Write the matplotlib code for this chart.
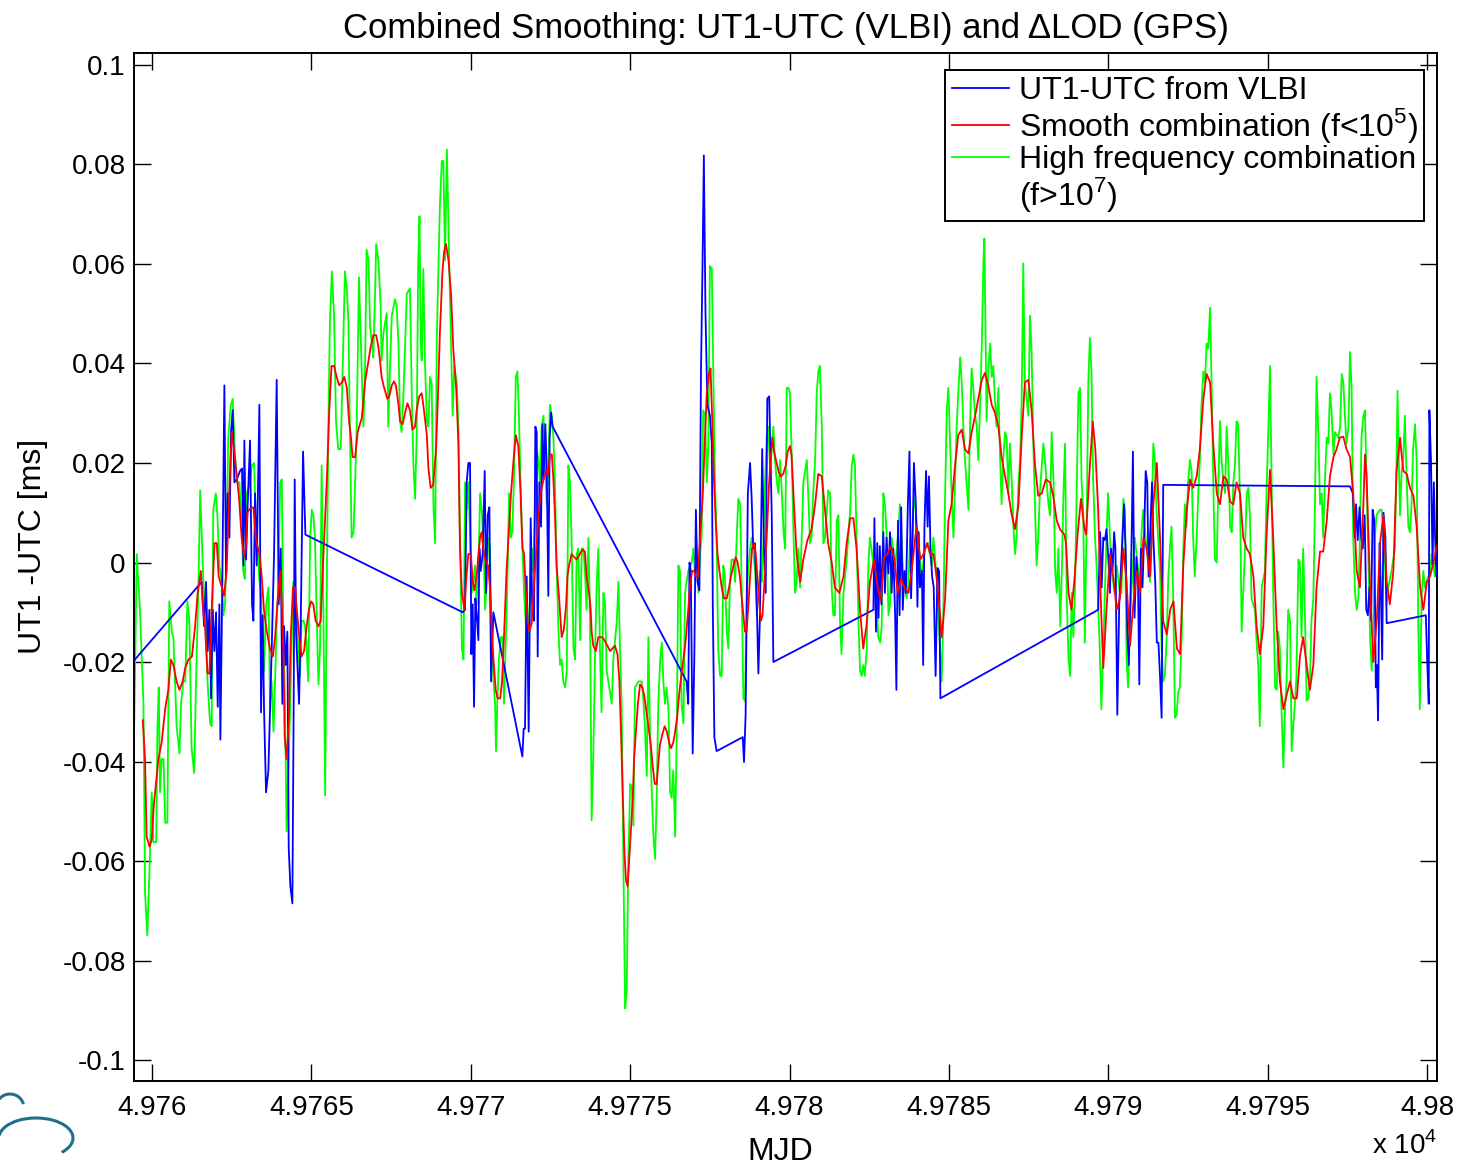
import matplotlib
matplotlib.use('Agg')
import matplotlib.pyplot as plt
from matplotlib.lines import Line2D
from matplotlib.patches import Arc
import numpy as np

plt.rcParams['font.family'] = ['Liberation Sans', 'DejaVu Sans']
plt.rcParams['mathtext.fontset'] = 'custom'
plt.rcParams['mathtext.rm'] = 'Liberation Sans'
plt.rcParams['axes.unicode_minus'] = False

MJD0 = 49760

# UT1-UTC from VLBI sessions (days since MJD0, microseconds)
vlbi_day = [-0.565, 1.558, 1.631, 1.694, 1.746, 1.798, 1.851, 1.903, 1.955, 2.008,
            2.06, 2.112, 2.143, 2.196, 2.269, 2.321, 2.373, 2.426, 2.478, 2.53,
            2.583, 2.656, 2.76, 2.823, 2.865, 2.896, 2.948, 3.0, 3.074, 3.137,
            3.179, 3.231, 3.283, 3.367, 3.419, 3.471, 3.513, 3.576, 3.649, 3.754,
            3.827, 3.91, 3.973, 4.036, 4.088, 4.14, 4.193, 4.245, 4.287, 4.339,
            4.402, 4.444, 4.475, 4.517, 4.569, 4.611, 4.663, 4.737, 4.81,
            9.745, 9.818, 9.87, 9.923, 9.975, 10.017, 10.059, 10.1, 10.142, 10.184,
            10.237, 10.268, 10.309, 10.372, 10.435, 10.477, 10.529, 10.582, 10.634, 10.707,
            11.617, 11.658, 11.7, 11.752, 11.815, 11.878, 11.93, 11.982, 12.024, 12.066,
            12.097, 12.149, 12.202, 12.244, 12.285, 12.337, 12.379, 12.431, 12.473, 12.515,
            12.567,
            16.77, 16.82, 16.86, 16.9, 16.96, 17.01, 17.06, 17.11, 17.17, 17.22,
            17.27, 17.31, 17.36, 17.42, 17.5, 17.56, 17.59, 17.64, 17.71,
            18.53, 18.57, 18.62, 18.69, 18.76, 18.81, 18.86, 18.91, 18.97, 19.02,
            19.07, 19.14, 19.2, 19.25, 19.3, 19.36, 19.44, 19.49,
            22.63, 22.66, 22.71, 22.75, 22.79, 22.83, 22.88, 22.94, 22.99, 23.04,
            23.1, 23.15, 23.2, 23.25, 23.31, 23.35, 23.4, 23.45, 23.5, 23.55,
            23.6, 23.65, 23.71, 23.76, 23.81, 23.86, 23.9, 23.96, 24.01, 24.05,
            24.09, 24.15, 24.19, 24.23, 24.28, 24.33, 24.37, 24.42, 24.47, 24.52,
            24.58, 24.64, 24.69, 24.73,
            29.68, 29.74, 29.79, 29.84, 29.89, 29.94, 30.0, 30.05, 30.08, 30.13,
            30.18, 30.22, 30.28, 30.34, 30.39, 30.44, 30.49, 30.54, 30.6, 30.64,
            30.68, 30.73, 30.77, 30.82, 30.88, 30.93, 30.97, 31.02, 31.07, 31.12,
            31.17, 31.22, 31.26, 31.32, 31.37, 31.41, 31.47, 31.52, 31.57, 31.62,
            31.67, 31.72,
            37.58, 37.67, 37.73, 37.77, 37.82, 37.88, 37.93, 37.98, 38.04, 38.09,
            38.14, 38.19, 38.24, 38.29, 38.34, 38.39, 38.42, 38.46, 38.51, 38.55,
            38.59, 38.63, 38.69, 38.73,
            39.96, 40.0, 40.05, 40.07, 40.12, 40.17, 40.21, 40.25, 40.29, 40.35]
vlbi_us = [-19.7, -3.9, -12.8, -3.9, -17.8, -9.5, -27.3, -9.5, -17.8, -10.0,
           -29.0, -8.4, -35.6, -8.4, 35.6, -2.8, 13.9, 5.0, 26.2, 30.6,
           16.1, 16.7, 18.4, 18.9, -0.6, 24.5, 0.6, 11.7, 24.5, -8.4,
           -11.7, 13.9, -0.6, 31.7, -30.1, -10.6, -29.5, -46.2, -41.8, -17.3,
           1.7, 36.7, -8.4, 2.8, -28.4, -12.8, -20.6, -13.9, -57.3, -65.1,
           -68.5, -27.3, 16.7, -13.9, -21.7, -28.4, -12.8, 22.3, 5.6,
           -10.0, -9.5, 16.1, 20.0, 20.0, -18.4, -8.4, -29.0, -7.2, -10.6,
           -15.6, 2.8, -1.7, 1.7, 18.4, -6.1, 9.5, 11.1, -23.9, -10.0,
           -39.0, -33.4, -33.4, -2.8, -34.0, 8.9, -10.6, -11.7, 27.3, 26.2,
           -18.9, 16.1, 7.2, 27.8, 16.7, 27.8, 19.5, -6.7, 25.1, 30.1,
           27.3,
           -23.9, -28.4, 0.0, -1.7, -38.4, -19.5, 10.6, -3.9, -5.6, 38.4,
           60.7, 81.8, 50.7, 31.7, 29.5, 23.9, -8.4, -35.1, -37.9,
           -35.1, -40.1, -30.6, 13.9, 20.0, 12.8, 2.8, 3.9, -8.4, -22.3,
           -10.6, 22.8, 1.7, -6.1, 32.9, 33.4, 9.5, -20.0,
           -9.5, 8.9, -13.9, 3.9, -11.1, 3.3, -8.4, 6.1, -6.1, 5.0,
           -2.2, 6.1, -6.1, 2.8, -10.6, -25.6, 8.4, -10.6, 11.1, -9.5,
           -1.7, -6.1, 11.7, 22.3, -7.2, 5.0, 20.0, 11.7, -8.9, 6.1,
           -5.0, -1.7, -20.6, 7.2, 18.4, 7.2, 17.3, 2.8, -2.8, -5.0,
           -22.8, -1.1, -1.7, -27.3,
           -9.5, 6.1, -5.0, 5.0, 4.5, 6.7, 0.6, -6.1, 2.8, -1.7,
           6.1, 2.8, -30.6, -8.4, -1.7, 5.0, 11.7, 2.8, -15.0, -20.6,
           -10.6, 5.0, 22.3, -11.1, 1.1, -3.9, -24.5, 2.8, -5.0, 5.0,
           18.4, 16.1, -2.8, 7.2, 16.1, 5.0, -3.9, -16.1, -16.1, -22.8,
           -31.2, 15.6,
           15.3, 13.9, 5.0, 11.7, 4.5, 11.1, 5.0, 2.8, 9.5, -9.5,
           -10.6, -5.0, -11.7, 10.6, 8.4, -25.1, -20.6, -31.7, 3.9, -6.1,
           -19.5, 10.0, 5.0, -12.2,
           -10.6, -19.5, -28.4, 30.6, 20.6, -0.6, 16.1, 5.0, -2.8, 5.0]

# smooth combination (f < 1e5)
smooth_day = [-0.29, -0.22, -0.17, -0.08, -0.01, 0.06, 0.2, 0.3, 0.41, 0.51,
              0.59, 0.67, 0.77, 0.86, 0.96, 1.04, 1.14, 1.25, 1.35, 1.43,
              1.53, 1.59, 1.66, 1.74, 1.8, 1.87, 1.96, 2.03, 2.09, 2.19,
              2.26, 2.34, 2.42, 2.5, 2.57, 2.66, 2.73, 2.81, 2.89, 2.94,
              2.99, 3.07, 3.18, 3.26, 3.37, 3.44, 3.51, 3.6, 3.7, 3.79,
              3.86, 3.93, 4.02, 4.07, 4.12, 4.16, 4.22, 4.29, 4.35, 4.42,
              4.49, 4.54, 4.62, 4.69, 4.77, 4.85, 4.92, 4.99, 5.06, 5.13,
              5.22, 5.29, 5.37, 5.48, 5.56, 5.63, 5.71, 5.79, 5.87, 5.96,
              6.03, 6.11, 6.18, 6.24, 6.29, 6.37, 6.45, 6.52,
              6.58, 6.68, 6.79, 6.86, 6.94, 7.03, 7.1, 7.15, 7.2, 7.26,
              7.31, 7.38, 7.44, 7.52, 7.59, 7.65, 7.73, 7.78, 7.86, 7.94,
              8.01, 8.09, 8.17, 8.25, 8.3, 8.38, 8.46, 8.53, 8.62, 8.67,
              8.74, 8.82, 8.91, 8.96, 9.03, 9.11, 9.16, 9.22, 9.3, 9.38,
              9.45, 9.54, 9.61, 9.66, 9.72, 9.8, 9.85, 9.92, 10.0, 10.06,
              10.11, 10.18, 10.24, 10.29, 10.34, 10.39, 10.47, 10.54, 10.6, 10.65,
              10.71, 10.78, 10.84, 10.92, 10.98, 11.04, 11.12, 11.2, 11.26, 11.34,
              11.41, 11.49, 11.56, 11.62, 11.67, 11.72, 11.78, 11.84, 11.91, 11.96,
              12.03, 12.12, 12.19, 12.28, 12.36, 12.43, 12.48, 12.54, 12.59, 12.64,
              12.69, 12.77, 12.85, 12.92, 12.99, 13.03, 13.08, 13.16, 13.24, 13.32,
              13.42, 13.5, 13.58, 13.63, 13.71, 13.76, 13.79, 13.84, 13.92, 14.0,
              14.11, 14.19, 14.28, 14.37, 14.44, 14.52, 14.6, 14.66, 14.71, 14.76,
              14.82, 14.87, 14.92, 14.97, 15.03, 15.08, 15.12, 15.18, 15.24, 15.31,
              15.38, 15.44, 15.5, 15.57, 15.64, 15.7, 15.77, 15.83, 15.88, 15.93,
              16.01, 16.08, 16.15, 16.22, 16.28, 16.35, 16.41, 16.48, 16.54, 16.61,
              16.69, 16.75, 16.82, 16.87, 16.94, 17.0, 17.06, 17.12, 17.19, 17.27,
              17.33, 17.4, 17.47, 17.52, 17.58, 17.63, 17.69, 17.74, 17.8, 17.87,
              17.94, 18.03, 18.1, 18.16, 18.24, 18.31, 18.37, 18.44, 18.5, 18.55,
              18.6, 18.65, 18.71, 18.76, 18.82, 18.88, 18.94, 18.99, 19.05, 19.1,
              19.15, 19.2, 19.28, 19.35, 19.41, 19.46, 19.51, 19.57, 19.65, 19.72,
              19.8, 19.88, 19.94, 20.01, 20.06,
              20.12, 20.22, 20.33, 20.43, 20.56, 20.69, 20.8, 20.9, 21.01, 21.11,
              21.21, 21.32, 21.42, 21.56, 21.69, 21.79, 21.9, 22.0, 22.1, 22.21,
              22.31, 22.41, 22.52, 22.65, 22.76, 22.86, 22.96, 23.07, 23.18, 23.29,
              23.39, 23.5, 23.6, 23.73, 23.83, 23.94, 23.99, 24.1, 24.2, 24.31,
              24.41, 24.51, 24.61, 24.72, 24.77, 24.88, 24.98, 25.08, 25.19, 25.29,
              25.4, 25.5, 25.61, 25.71, 25.82, 25.92, 26.03, 26.13, 26.23, 26.34,
              26.44, 26.55, 26.65, 26.76, 26.86, 26.97,
              27.07, 27.18, 27.28, 27.38, 27.49, 27.59, 27.7, 27.8, 27.91, 28.04,
              28.17, 28.27, 28.38, 28.48, 28.62, 28.67, 28.75, 28.84, 28.93, 29.04,
              29.14, 29.24, 29.3, 29.4, 29.51, 29.59, 29.68, 29.76, 29.84, 29.95,
              30.05, 30.15, 30.26, 30.36, 30.47, 30.57, 30.68, 30.78, 30.89, 30.99,
              31.1, 31.2, 31.31, 31.41, 31.52, 31.62, 31.72, 31.83, 31.94, 32.04,
              32.15, 32.25, 32.35, 32.46, 32.56, 32.66, 32.77, 32.87, 32.98, 33.08,
              33.19, 33.29, 33.4, 33.5, 33.61, 33.71, 33.82, 33.92, 34.02,
              34.13, 34.23, 34.34, 34.44, 34.55, 34.65, 34.75, 34.86, 34.96, 35.07,
              35.17, 35.28, 35.38, 35.49, 35.59, 35.7, 35.8, 35.91, 36.01, 36.11,
              36.22, 36.32, 36.43, 36.53, 36.64, 36.74, 36.85, 36.95, 37.06, 37.16,
              37.26, 37.37, 37.47, 37.58, 37.68, 37.79, 37.89, 38.0, 38.05, 38.1,
              38.21, 38.31, 38.42, 38.52, 38.63, 38.73, 38.83, 38.94, 39.04, 39.15,
              39.25, 39.36, 39.46, 39.57, 39.67, 39.78, 39.88, 39.99, 40.09, 40.2,
              40.3, 40.35]
smooth_us = [-31.7, -39.5, -55.1, -57.1, -55.7, -48.4, -39.5, -36.2, -29.5, -25.6,
             -19.5, -20.6, -23.9, -25.6, -23.9, -21.2, -19.5, -18.9, -12.8, -6.1,
             -1.7, -8.4, -12.8, -22.3, -22.3, -9.5, 3.9, 3.9, -2.8, -5.0,
             -6.7, -1.7, 13.9, 26.2, 22.8, 17.3, 12.8, 5.0, 1.1, 2.8,
             10.0, 10.8, 11.1, 4.5, 1.7, -2.8, -9.5, -13.9, -17.3, -18.9,
             -15.0, -8.4, -1.7, -8.4, -17.3, -35.1, -39.5, -31.7, -15.0, -5.0,
             -5.0, -9.5, -15.0, -18.9, -17.8, -12.8, -9.5, -7.8, -8.4, -11.7,
             -12.8, -11.7, 0.6, 16.1, 30.6, 39.5, 39.5, 37.3, 35.6, 36.2,
             37.3, 35.1, 28.4, 25.1, 21.2, 21.2, 26.2, 27.8,
             29.0, 36.2, 40.6, 43.4, 45.7, 45.7, 43.4, 40.6, 37.3, 35.6,
             34.5, 32.9, 33.4, 35.6, 36.4, 35.6, 31.7, 28.4, 27.8, 30.1,
             32.0, 30.6, 26.7, 27.3, 30.6, 33.4, 34.0, 30.6, 25.6, 18.9,
             15.0, 15.6, 22.8, 31.7, 46.2, 58.5, 62.4, 64.0, 60.7, 54.0,
             42.9, 35.1, 23.9, 2.8, -6.1, -9.5, -3.9, 1.7, 1.7, -3.9,
             -5.6, -2.8, 1.7, 5.0, 6.1, 2.8, 0.0, -0.6, -5.0, -12.8,
             -19.5, -25.6, -27.3, -27.3, -23.9, -15.0, -1.7, 7.2, 13.9, 20.6,
             25.6, 23.4, 13.9, 2.8, 1.7, -5.0, -11.7, -13.9, -12.2, -7.2,
             0.6, 8.9, 13.9, 16.7, 18.4, 17.8, 21.7, 21.7, 16.7, 9.5,
             -0.6, -7.2, -15.0, -13.4, -8.4, -2.8, -0.6, 1.7, 1.1, 0.6,
             1.7, 2.6, 2.2, -2.8, -6.1, -9.5, -13.9, -16.7, -17.8, -15.0,
             -15.0, -15.6, -16.7, -17.8, -17.3, -16.7, -18.4, -23.9, -34.0, -45.1,
             -58.5, -64.0, -65.1, -59.6, -52.9, -47.3, -39.5, -34.0, -28.4, -24.5,
             -25.1, -26.7, -29.5, -32.9, -36.2, -40.6, -44.5, -44.5, -40.6, -36.7,
             -34.5, -32.9, -34.0, -36.2, -37.3, -36.2, -34.0, -30.6, -26.2, -22.3,
             -18.4, -15.0, -9.5, -5.0, -1.7, -1.7, -2.8, -2.8, 5.0, 12.8,
             22.8, 34.0, 37.9, 39.0, 27.3, 16.1, 7.2, 1.7, -1.7, -5.0,
             -7.2, -7.2, -5.0, -2.8, -0.6, 1.1, 0.0, -2.8, -7.2, -10.6,
             -13.9, -13.9, -8.4, -2.8, 2.8, 3.9, 1.7, -2.8, -8.4, -11.7,
             -10.6, -5.0, 5.0, 15.0, 21.7, 25.1, 22.3, 20.6, 18.4, 17.3,
             17.8, 19.5, 22.3, 23.4, 21.7,
             13.9, 1.7, -3.9, 0.6, 4.5, 6.7, 11.7, 17.8, 17.3, 10.6,
             3.9, 0.0, -5.0, -6.1, -2.8, 3.9, 8.9, 8.9, 2.8, -9.5,
             -17.3, -12.8, -3.9, 0.6, -5.0, -7.8, 1.1, 1.7, 3.3, 0.6,
             -6.1, -3.3, -5.0, -6.1, -1.7, 5.0, 7.2, 0.6, 1.7, 3.9,
             1.7, 1.7, -2.8, -10.6, -15.0, -7.2, 8.4, 11.7, 19.5, 25.6,
             26.7, 22.8, 21.9, 26.2, 29.5, 32.9, 36.7, 38.1, 35.6, 31.7,
             30.1, 27.3, 21.2, 17.3, 13.9, 9.5,
             6.7, 11.7, 25.1, 36.2, 36.7, 30.6, 19.5, 13.4, 13.9, 16.7,
             16.1, 13.4, 8.4, 6.7, 5.6, 3.9, -6.1, -9.5, -3.9, 6.1,
             12.8, 7.2, 5.6, 17.3, 28.4, 22.8, 10.6, -7.2, -21.2, -8.4,
             1.7, -2.8, -9.5, -7.2, 2.8, -3.9, -16.7, -8.4, -1.7, -6.1,
             5.0, 2.8, -2.8, 11.7, 20.0, 5.0, -11.7, -14.5, -9.5, -7.8,
             -17.3, -18.4, -0.6, 10.6, 16.7, 15.0, 17.3, 22.8, 32.9, 37.9,
             36.2, 23.9, 13.9, 11.7, 17.3, 16.7, 12.2, 11.7, 16.1,
             13.9, 5.0, 2.8, 1.7, -2.8, -12.8, -18.4, -12.8, 5.0, 18.6,
             5.0, -12.8, -23.9, -29.5, -26.7, -23.9, -27.3, -27.3, -18.9, -15.0,
             -20.6, -25.6, -20.6, -5.0, 2.2, 2.2, 8.4, 17.3, 21.2, 22.8,
             25.1, 25.3, 22.8, 21.2, 13.9, -1.7, -5.0, 11.7, 21.7, 17.3,
             -5.0, -20.0, -11.7, 3.9, 9.5, -3.9, -8.4, -1.7, 18.4, 25.1,
             18.4, 17.8, 15.0, 13.4, 7.2, -5.0, -9.5, -3.9, -2.8, 0.0,
             3.3, 3.3]

# high frequency combination (f > 1e7)
hf_day = [-0.56, -0.48, -0.38, -0.27, -0.22, -0.15, -0.08, -0.01, 0.04, 0.13,
          0.17, 0.21, 0.25, 0.3, 0.36, 0.41, 0.48, 0.54, 0.62, 0.67,
          0.77, 0.86, 0.91, 0.98, 1.04, 1.11, 1.17, 1.24, 1.32, 1.38,
          1.45, 1.51, 1.56, 1.61, 1.66, 1.74, 1.82, 1.87, 1.92, 2.0,
          2.05, 2.11, 2.19, 2.24, 2.29, 2.34, 2.39, 2.47, 2.53, 2.6,
          2.66, 2.74, 2.81, 2.86, 2.91, 2.97, 3.02, 3.07, 3.13, 3.2,
          3.26, 3.31, 3.37, 3.42, 3.47, 3.51, 3.58, 3.65, 3.7, 3.75,
          3.81, 3.86, 3.91, 3.96, 4.02, 4.07, 4.12, 4.17, 4.22, 4.29,
          4.36, 4.43, 4.49, 4.54, 4.59, 4.64, 4.69, 4.75, 4.8, 4.85,
          4.9, 4.96, 5.01, 5.06, 5.11, 5.17, 5.22, 5.27, 5.32, 5.37,
          5.43, 5.48, 5.53, 5.58, 5.64, 5.71, 5.77, 5.84, 5.92, 5.98,
          6.05, 6.11, 6.16, 6.21, 6.26, 6.32, 6.37, 6.42, 6.49,
          6.58, 6.63, 6.68, 6.73, 6.79, 6.84, 6.9, 6.94, 7.0, 7.03,
          7.1, 7.17, 7.2, 7.26, 7.36, 7.41, 7.46, 7.52, 7.62, 7.67,
          7.73, 7.78, 7.83, 7.88, 7.94, 7.99, 8.09, 8.15, 8.2, 8.25,
          8.3, 8.35, 8.39, 8.43, 8.46, 8.51, 8.56, 8.62, 8.67, 8.72,
          8.77, 8.83, 8.88, 8.93, 8.98, 9.03, 9.09, 9.14, 9.19, 9.25,
          9.32, 9.38, 9.43, 9.48, 9.56, 9.61, 9.66, 9.72, 9.77, 9.82,
          9.87, 9.92, 9.98, 10.03, 10.08, 10.13, 10.18, 10.24, 10.29, 10.34,
          10.39, 10.45, 10.5, 10.55, 10.6, 10.65, 10.71, 10.76, 10.79, 10.83,
          10.88, 10.94, 10.99, 11.04, 11.09, 11.14, 11.2, 11.25, 11.3, 11.35,
          11.41, 11.46, 11.51, 11.56, 11.62, 11.67, 11.72, 11.77, 11.83, 11.88,
          11.93, 11.96, 12.01, 12.07, 12.12, 12.17, 12.22, 12.28, 12.33, 12.38,
          12.43, 12.48, 12.54, 12.59, 12.64, 12.69, 12.75, 12.8, 12.85, 12.9,
          12.96, 13.01, 13.06, 13.11, 13.16, 13.22, 13.27, 13.32, 13.37,
          13.43, 13.48, 13.53, 13.58, 13.63, 13.69, 13.74, 13.79, 13.84, 13.9,
          13.95, 14.0, 14.05, 14.1, 14.16, 14.21, 14.26, 14.37, 14.42, 14.47,
          14.58, 14.63, 14.68, 14.73, 14.79, 14.84, 14.89, 14.94, 15.0, 15.05,
          15.1, 15.15, 15.26, 15.36, 15.41, 15.46, 15.52, 15.57, 15.62, 15.67,
          15.73, 15.78, 15.83, 15.88, 15.94, 15.99, 16.04, 16.09, 16.14, 16.2,
          16.25, 16.3, 16.35, 16.41, 16.46, 16.51, 16.56, 16.61, 16.67, 16.72,
          16.82, 16.93, 16.98, 17.03, 17.09, 17.14, 17.19, 17.24, 17.29, 17.35,
          17.4, 17.45, 17.5, 17.56, 17.61, 17.66, 17.71, 17.76, 17.82, 17.87,
          17.92, 17.97, 18.03, 18.08, 18.13, 18.18, 18.24, 18.29, 18.34, 18.39,
          18.45, 18.5, 18.55, 18.6, 18.66, 18.71, 18.76, 18.81, 18.92, 18.97,
          19.02, 19.07, 19.13, 19.18, 19.23, 19.28, 19.33, 19.39, 19.44, 19.49,
          19.54, 19.6, 19.65, 19.7, 19.75, 19.81, 19.86, 19.91, 19.96, 20.01,
          20.07, 20.12, 20.17, 20.22, 20.27,
          20.33, 20.38, 20.43, 20.54, 20.59, 20.64, 20.69, 20.74, 20.8, 20.85,
          20.9, 20.95, 21.01, 21.06, 21.11, 21.16, 21.21, 21.27, 21.32, 21.37,
          21.42, 21.48, 21.53, 21.58, 21.63, 21.69, 21.79, 21.84, 21.9, 21.95,
          22.0, 22.05, 22.1, 22.16, 22.21, 22.26, 22.31, 22.36, 22.42, 22.47,
          22.52, 22.57, 22.68, 22.73, 22.78, 22.84, 22.89, 22.94, 22.99, 23.05,
          23.1, 23.15, 23.2, 23.31, 23.41, 23.46, 23.51, 23.57, 23.67, 23.72,
          23.78, 23.83, 23.88, 23.93, 24.04, 24.14, 24.25, 24.35, 24.46, 24.51,
          24.61, 24.67, 24.72, 24.77, 24.82, 24.87, 24.93, 24.98, 25.03, 25.08,
          25.14, 25.19, 25.24, 25.29, 25.35, 25.4, 25.45, 25.5, 25.55, 25.61,
          25.66, 25.71, 25.76, 25.82, 25.87, 25.92, 25.97, 26.03, 26.08, 26.11,
          26.15, 26.18, 26.23, 26.29, 26.34, 26.39, 26.44, 26.49, 26.55, 26.6,
          26.65, 26.7, 26.76, 26.81, 26.86, 26.91, 26.97, 27.02, 27.07, 27.12,
          27.18, 27.23, 27.28, 27.33, 27.38, 27.49, 27.54, 27.59, 27.65, 27.7,
          27.75, 27.8, 27.85, 27.96, 28.01, 28.12, 28.17, 28.22, 28.28, 28.33,
          28.38, 28.43, 28.49, 28.54, 28.59, 28.64, 28.69, 28.75, 28.8, 28.85,
          28.9, 28.95, 29.0, 29.06, 29.11, 29.16, 29.21, 29.26, 29.32, 29.37,
          29.42, 29.47, 29.52, 29.58, 29.63, 29.68, 29.73, 29.78, 29.84, 29.89,
          29.94, 29.99, 30.05, 30.1, 30.2, 30.26, 30.36, 30.41, 30.47, 30.52,
          30.57, 30.62, 30.68, 30.78, 30.83, 30.94, 30.99, 31.04, 31.09, 31.2,
          31.31, 31.36, 31.41, 31.46, 31.51, 31.62, 31.67, 31.72, 31.77, 31.83,
          31.88, 31.93, 31.98, 32.03, 32.09, 32.14, 32.19, 32.24, 32.3, 32.35,
          32.4, 32.45, 32.5, 32.56, 32.61, 32.66, 32.71, 32.77, 32.82, 32.87,
          32.92, 32.98, 33.03, 33.08, 33.13, 33.19, 33.24, 33.29, 33.34, 33.4,
          33.45, 33.5, 33.55, 33.61, 33.66, 33.71, 33.76, 33.82, 33.87, 33.92,
          33.97, 34.02, 34.07,
          34.13, 34.18, 34.23, 34.28, 34.34, 34.39, 34.44, 34.49, 34.6, 34.65,
          34.7, 34.75, 34.81, 34.91, 34.96, 35.02, 35.07, 35.12, 35.17, 35.23,
          35.28, 35.33, 35.38, 35.43, 35.49, 35.54, 35.59, 35.64, 35.7, 35.75,
          35.8, 35.85, 35.9, 35.96, 36.01, 36.06, 36.11, 36.17, 36.22, 36.27,
          36.32, 36.37, 36.43, 36.48, 36.53, 36.58, 36.64, 36.69, 36.74, 36.79,
          36.85, 36.9, 36.95, 37.0, 37.06, 37.11, 37.21, 37.27, 37.32, 37.37,
          37.42, 37.47, 37.53, 37.58, 37.63, 37.68, 37.74, 37.79, 37.84, 37.89,
          37.94, 38.0, 38.05, 38.1, 38.15, 38.21, 38.26, 38.31, 38.36, 38.41,
          38.52, 38.57, 38.62, 38.68, 38.73, 38.78, 38.88, 38.99, 39.04, 39.07,
          39.11, 39.15, 39.2, 39.25, 39.3, 39.36, 39.41, 39.46, 39.51, 39.56,
          39.62, 39.67, 39.72, 39.77, 39.83, 39.88, 39.93, 39.98, 40.09, 40.14,
          40.19, 40.24, 40.3, 40.35]
hf_us = [-32.9, 1.7, -9.5, -28.4, -66.3, -74.9, -61.8, -46.2, -56.2, -56.2,
         -32.9, -25.1, -46.2, -39.5, -39.5, -52.3, -52.3, -7.8, -13.9, -15.0,
         -32.9, -38.4, -28.4, -23.9, -23.9, -7.8, -11.7, -37.3, -42.3, -23.9,
         -6.1, 14.5, 5.0, -3.9, -8.4, -23.9, -32.3, -32.9, 10.6, 13.9,
         9.5, -0.6, -3.9, -10.6, -8.4, 5.0, 25.1, 31.7, 32.9, 21.7,
         16.1, 16.1, 7.2, -1.7, -3.3, 13.9, 15.0, 16.1, 19.5, 20.0,
         7.2, 2.8, -3.9, -6.1, -22.8, -21.7, -8.4, -5.0, -28.4, -23.9,
         -34.0, -23.9, -11.7, -5.0, 16.1, 16.7, -15.0, -28.4, -54.0, -39.5,
         -21.7, -3.9, -6.1, -11.7, -17.3, -22.8, -11.7, -11.7, -12.8, -17.3,
         -23.9, 5.0, 10.6, 9.5, 5.0, -11.7, -24.5, -17.3, 19.5, -6.1,
         -46.8, -6.1, 27.3, 48.4, 58.5, 49.6, 28.4, 22.8, 22.8, 39.5,
         58.5, 55.1, 48.4, 25.1, 5.0, 6.1, 16.1, 27.3, 57.3,
         38.4, 27.3, 38.4, 62.9, 60.7, 47.3, 44.0, 41.2, 55.1, 64.0,
         60.7, 51.8, 40.6, 46.2, 50.1, 27.3, 38.4, 49.6, 52.9, 51.8,
         44.0, 28.4, 26.2, 32.9, 44.0, 54.0, 55.1, 32.9, 19.5, 12.8,
         25.1, 60.7, 69.6, 44.0, 40.6, 59.0, 40.6, 28.4, 27.3, 37.3,
         36.2, 10.6, 3.9, 44.0, 58.5, 71.8, 80.7, 80.7, 60.7, 83.0,
         60.7, 44.0, 29.5, 39.5, 36.2, 27.3, 5.0, -17.3, -19.5, 16.1,
         10.6, 16.1, 5.0, -6.1, -3.9, -0.6, -8.4, -0.6, 13.9, 10.6,
         5.0, -9.5, -3.9, 5.0, 2.8, -13.9, -23.9, -28.4, -37.9, -28.4,
         -19.5, -15.0, -15.0, -28.4, -17.3, -6.1, 13.9, 5.0, 6.1, 16.1,
         37.3, 38.4, 29.5, 16.1, 2.8, -6.1, -11.7, -17.3, -9.5, -6.1,
         2.8, -1.7, 10.6, 22.8, 20.6, 16.1, 27.3, 29.5, 20.6, 11.7,
         18.4, 31.7, 29.5, 25.1, 16.1, -0.6, -13.9, -20.6, -19.5, -23.9,
         -25.1, -21.7, 19.5, 16.1, 5.0, -17.3, -19.5, 1.7, 2.8,
         -15.6, 2.8, 2.8, -1.7, -9.5, 5.0, -11.7, -51.8, -39.5, -17.3,
         -3.9, 2.8, -17.3, -30.1, -6.1, -8.4, -21.7, -26.2, -28.4, -19.5,
         -11.7, -3.9, -17.3, -28.4, -62.9, -89.6, -86.3, -59.6, -44.5, -45.1,
         -52.9, -25.1, -23.9, -23.9, -27.3, -32.9, -42.9, -15.0, -34.0, -45.1,
         -55.1, -59.6, -47.3, -28.4, -19.5, -16.1, -23.9, -28.4, -25.1, -29.5,
         -46.2, -47.3, -41.8, -55.1, -34.0, -0.6, -1.7, -28.4, -32.3, -6.1,
         -1.7, 0.0, 2.8, -1.7, 2.8, -6.1, 1.7, 5.0, 30.6, 29.5,
         16.1, 22.8, 59.6, 59.0, 36.2, 16.1, 5.0, -17.3, -22.8, -22.8,
         -0.6, -2.8, -13.9, -17.3, -3.9, 0.6, 0.6, -3.9, 5.0, 12.8,
         11.7, -6.1, -27.3, -27.8, -6.1, -0.6, 2.8, 5.0, -1.7, -10.6,
         -6.1, -1.7, -3.9, 5.0, 16.1, 25.1, 27.3, 18.4, 22.8, 27.3,
         20.6, 16.1, 13.9, 20.6, 15.0, 6.1, 2.8, 35.1, 35.1, 34.0,
         20.6, 6.1, -6.1, -3.9, 2.8,
         -5.0, 5.0, 16.1, 20.6, 12.8, 3.9, 5.0, 13.9, 20.6, 33.9,
         38.4, 39.5, 27.3, 3.9, 5.0, 9.5, 14.5, 13.9, -5.0, -10.6,
         -10.6, 8.4, 9.5, -11.7, -18.4, -6.1, 0.6, 5.0, 10.6, 19.5,
         21.7, 19.5, 5.0, -11.7, -21.7, -22.8, -20.6, -22.8, -17.3, -0.6,
         5.0, 2.8, -3.9, -6.1, -15.0, -16.1, -12.8, 13.9, 11.7, 5.0,
         -10.6, -8.4, 5.0, -0.6, 6.1, 11.7, 5.0, -3.9, -7.2, -5.0,
         5.0, 2.8, 10.6, 12.8, 3.9, -2.8, 2.8, 3.9, -0.6, 5.0,
         -2.8, -10.6, -17.3, -23.9, -11.7, 10.6, 30.6, 35.1, 25.1, 13.9,
         5.0, 16.1, 27.3, 34.0, 41.2, 36.2, 27.3, 20.6, 16.1, 10.6,
         27.3, 39.0, 35.1, 29.5, 27.3, 20.6, 30.6, 44.0, 60.7, 65.1,
         44.0, 28.4, 38.4, 44.0, 37.3, 39.5, 32.9, 27.3, 35.1, 21.7,
         11.7, 20.6, 26.2, 25.1, 13.9, 23.9, 16.1, 7.2, 1.7, 5.0,
         16.1, 20.6, 32.9, 60.1, 36.2, 29.5, 49.6, 42.9, 22.8, 10.6,
         -0.6, 5.0, 13.9, 23.9, 20.6, 11.7, 9.5, 26.2, 16.1, -1.7,
         -6.1, 2.8, -12.8, -1.7, 13.9, 23.9, -6.1, -19.5, -22.8, -6.1,
         -15.0, -6.1, 11.7, 34.0, 35.1, 16.1, 10.6, -16.1, 8.4, 36.2,
         45.1, 38.4, 17.3, 5.0, -0.6, -8.4, -17.3, -29.5, -17.3, -6.1,
         5.0, 13.9, 5.0, -1.7, -6.1, -0.6, -6.1, -6.1, 12.8, 10.6,
         -19.5, -25.1, -10.6, 0.6, 5.0, -1.7, -6.1, 6.1, 10.6, 2.8,
         -3.9, 9.5, 23.9, 20.6, 10.6, -1.7, -17.3, -23.9, -22.8, -15.0,
         -2.8, 2.8, 7.2, -6.1, -31.2, -30.6, -26.2, -25.1, -15.0, 2.8,
         11.7, 7.2, 16.1, 20.6, 18.4, 5.0, -2.8, 5.0, 13.9, 20.6,
         31.7, 38.4, 36.2, 44.0, 42.9, 51.2, 35.1, 16.1, 0.6, 0.0,
         16.1, 28.4, 20.6, 16.1, 13.9, 27.3, 20.6, 7.2, 6.1, 16.1,
         19.5, 28.4, 27.8,
         12.8, -13.9, -6.1, 1.7, 13.9, 15.0, 9.5, -7.2, -9.5, -16.1,
         -20.6, -32.9, -5.0, -1.7, 13.9, 27.3, 39.5, 16.1, -6.1, -25.1,
         -25.6, -13.9, -17.3, -29.5, -41.2, -29.5, -23.9, -9.5, -11.7, -37.9,
         -32.9, -28.4, -22.8, 0.6, 0.0, -15.0, 2.8, -11.7, -27.8, -27.3,
         -23.9, -11.7, -7.2, 11.7, 37.3, 27.3, 11.7, 13.9, 5.0, 16.1,
         25.1, 23.9, 34.0, 30.6, 21.7, 26.2, 25.1, 27.3, 37.9, 36.2,
         29.5, 23.9, 27.3, 42.3, 35.1, 5.0, -6.1, -9.5, -7.2, 5.0,
         25.1, 29.5, 30.6, 16.1, 2.8, -15.0, -21.7, -13.9, 5.0, 9.5,
         10.6, 10.6, 6.1, -0.6, -8.4, -5.0, -1.7, 2.8, 20.6, 34.5,
         20.6, 9.5, 18.4, 20.6, 29.5, 16.1, 7.2, 6.1, 11.7, 22.8,
         27.8, 20.6, -11.7, -29.5, -6.1, -1.7, -5.0, -3.9, -1.7, 1.7,
         -0.6, -2.8, 5.0, 6.1]

xtick_days = [0, 5, 10, 15, 20, 25, 30, 35, 40]
xtick_labels = ['4.976', '4.9765', '4.977', '4.9775', '4.978',
                '4.9785', '4.979', '4.9795', '4.98']
ytick_vals = [0.1, 0.08, 0.06, 0.04, 0.02, 0, -0.02, -0.04, -0.06, -0.08, -0.1]
ytick_labels = ['0.1', '0.08', '0.06', '0.04', '0.02', '0',
                '-0.02', '-0.04', '-0.06', '-0.08', '-0.1']

fig = plt.figure(figsize=(14.57, 11.64), dpi=100)
ax = fig.add_axes([0.092, 0.0713, 0.8943, 0.8832])

lw = 1.3
ax.plot(MJD0 + np.array(hf_day), np.array(hf_us) / 1000, color=(0, 1, 0), lw=lw, zorder=2)
ax.plot(MJD0 + np.array(vlbi_day), np.array(vlbi_us) / 1000, color=(0, 0, 1), lw=lw, zorder=3)
ax.plot(MJD0 + np.array(smooth_day), np.array(smooth_us) / 1000, color=(1, 0, 0), lw=lw, zorder=4)

ax.set_xlim(MJD0 - 0.565, MJD0 + 40.31)
ax.set_ylim(-0.1042, 0.1024)
ax.set_xticks([MJD0 + d for d in xtick_days])
ax.set_xticklabels(xtick_labels)
ax.set_yticks(ytick_vals)
ax.set_yticklabels(ytick_labels)
ax.tick_params(direction='in', length=12, width=1, top=True, right=True, labelsize=20)
ax.tick_params(axis='x', pad=10)
ax.tick_params(axis='y', pad=6)
for sp in ax.spines.values():
    sp.set_linewidth(1.4)

ax.set_title('Combined Smoothing: UT1-UTC (VLBI) and \u0394LOD (GPS)', fontsize=25, pad=11)
ax.set_xlabel('MJD', fontsize=23)
ax.xaxis.set_label_coords(0.496, -0.054)
ax.set_ylabel('UT1 -UTC [ms]', fontsize=23)
ax.yaxis.set_label_coords(-0.066, 0.52)
# axis multiplier under the right end of the x axis
ax.text(1.0, -0.0765, 'x 10$^{4}$', transform=ax.transAxes, ha='right', va='bottom', fontsize=20)

handles = [Line2D([], [], color=(0, 0, 1), lw=lw),
           Line2D([], [], color=(1, 0, 0), lw=lw),
           Line2D([], [], color=(0, 1, 0), lw=lw),
           Line2D([], [], color='none', lw=lw)]
labels = ['UT1-UTC from VLBI', 'Smooth combination (f<10$^{5}$)',
          'High frequency combination', '(f>10$^{7}$)']
leg = ax.legend(handles, labels, loc='upper right', bbox_to_anchor=(0.990, 0.9835),
                borderaxespad=0, fontsize=23, fancybox=False, framealpha=1,
                edgecolor='black', handlelength=1.8, handletextpad=0.3,
                labelspacing=0.0, borderpad=0.2)
leg.get_frame().set_linewidth(1.4)

# logo swoosh in the lower left corner
logo_c = '#216e8c'
fig.add_artist(Arc((10 / 1457, 1 - 1108 / 1164), 28 / 1457, 28 / 1164, theta1=20, theta2=180,
                   transform=fig.transFigure, color=logo_c, lw=2.2))
fig.add_artist(Arc((36 / 1457, 1 - 1138 / 1164), 74 / 1457, 40 / 1164, theta1=-35, theta2=175,
                   transform=fig.transFigure, color=logo_c, lw=2.2))

fig.savefig('out.png', dpi=100)
